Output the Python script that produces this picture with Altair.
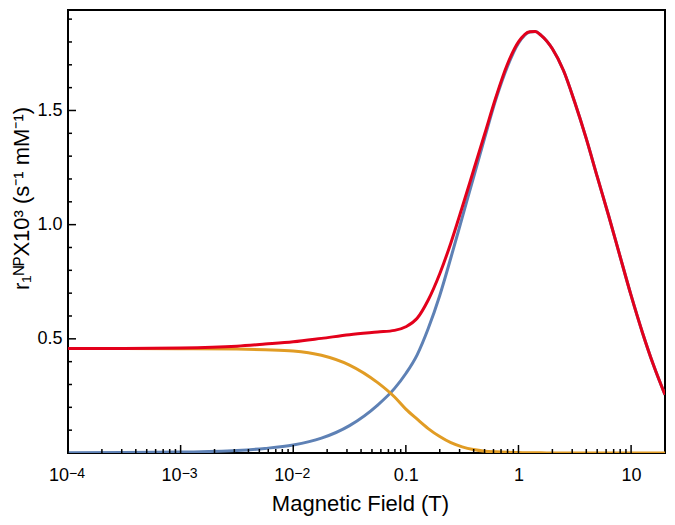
import altair as alt
import pandas as pd

# Magnetic field (T) sample points (log-spaced)
field_T = [0.0001, 0.000316, 0.001, 0.00316, 0.00562, 0.01, 0.0178, 0.0316, 0.0562, 0.0794,
           0.1, 0.126, 0.158, 0.2, 0.251, 0.316, 0.398, 0.501, 0.631, 0.794,
           1.0, 1.26, 1.41, 1.58, 2.0, 2.51, 3.16, 3.98, 5.01, 6.31,
           7.94, 10.0, 12.6, 15.8, 20.0]

blue_vals = [0.001, 0.002, 0.004, 0.011, 0.020, 0.035, 0.065, 0.120, 0.210, 0.283,
             0.348, 0.430, 0.545, 0.690, 0.855, 1.030, 1.205, 1.380, 1.550, 1.690,
             1.795, 1.844, 1.846, 1.830, 1.770, 1.675, 1.536, 1.380, 1.209, 1.040,
             0.865, 0.690, 0.528, 0.385, 0.255]

orange_vals = [0.458, 0.458, 0.457, 0.455, 0.452, 0.447, 0.428, 0.385, 0.308, 0.245,
               0.192, 0.148, 0.107, 0.072, 0.045, 0.027, 0.015, 0.008, 0.005, 0.003,
               0.002, 0.001, 0.001, 0.001, 0.000, 0.000, 0.000, 0.000, 0.000, 0.000,
               0.000, 0.000, 0.000, 0.000, 0.000]

red_vals = [0.458, 0.458, 0.460, 0.468, 0.477, 0.487, 0.502, 0.518, 0.530, 0.537,
            0.553, 0.590, 0.670, 0.785, 0.920, 1.075, 1.236, 1.397, 1.559, 1.700,
            1.800, 1.845, 1.846, 1.830, 1.770, 1.675, 1.536, 1.380, 1.209, 1.040,
            0.865, 0.690, 0.528, 0.385, 0.255]

x_major = [0.0001, 0.001, 0.01, 0.1, 1, 10]
x_plain_ticks = [0.1, 1, 10]
x_plain_labels = ["0.1", "1", "10"]
x_pow_ticks = [0.0001, 0.001, 0.01]
x_pow_base = "10"
x_pow_exps = ["−4", "−3", "−2"]
x_minor = [m * 10.0 ** e for e in range(-4, 2) for m in range(2, 10) if m * 10.0 ** e < 20]
y_major = [0.5, 1.0, 1.5]
y_minor = [0.1, 0.2, 0.3, 0.4, 0.6, 0.7, 0.8, 0.9, 1.1, 1.2, 1.3, 1.4, 1.6, 1.7, 1.8, 1.9]

BLUE = "#5E81B5"
ORANGE = "#E19C24"
RED = "#E3001B"
FONT = "Liberation Sans"
W, H = 597, 443

df = pd.DataFrame({"field": field_T, "blue": blue_vals, "orange": orange_vals, "red": red_vals})

x_scale = alt.Scale(type="log", domain=[0.0001, 20], nice=False)
y_scale = alt.Scale(domain=[0, 1.94], nice=False, zero=False)


def arr_expr(items):
    return "[" + ",".join("'" + s + "'" for s in items) + "]"


common = dict(grid=False, domain=False, ticks=False,
              labelFont=FONT, labelColor="black", titleFont=FONT, titleColor="black",
              titleFontWeight="normal", labelFlush=False, labelOverlap=False)

x_axis_plain = alt.Axis(orient="bottom", values=x_plain_ticks,
                        labelExpr=arr_expr(x_plain_labels) + "[round(log(datum.value)/LN10)+1]",
                        labelPadding=13, labelFontSize=18,
                        title="Magnetic Field (T)", titleFontSize=22,
                        titleX=292, titleY=57, titleAlign="center",
                        titleBaseline="alphabetic", **common)
x_axis_base = alt.Axis(orient="bottom", values=x_pow_ticks, labelExpr="'" + x_pow_base + "'",
                       labelPadding=13, labelFontSize=18, labelOffset=-9.5,
                       title="", **common)
x_axis_exp = alt.Axis(orient="bottom", values=x_pow_ticks,
                      labelExpr=arr_expr(x_pow_exps) + "[round(log(datum.value)/LN10)+4]",
                      labelPadding=13, labelFontSize=14, labelOffset=8.5,
                      title="", **common)
y_axis_major = alt.Axis(orient="left", values=y_major, format=".1f",
                        labelPadding=6, labelFontSize=18,
                        title="r₁ᴺᴾX10³ (s⁻¹ mM⁻¹)", titleFontSize=22,
                        titleAngle=270, titleX=-40, titleY=188, titleAlign="center",
                        titleBaseline="alphabetic", **common)

base = alt.Chart(df)

axis_layer_1 = base.mark_line(opacity=0).encode(
    x=alt.X("field:Q", scale=x_scale, axis=x_axis_plain),
    y=alt.Y("blue:Q", scale=y_scale, axis=y_axis_major),
)
axis_layer_2 = base.mark_line(opacity=0).encode(
    x=alt.X("field:Q", scale=x_scale, axis=x_axis_base),
    y=alt.Y("blue:Q", scale=y_scale, axis=None),
)
axis_layer_3 = base.mark_line(opacity=0).encode(
    x=alt.X("field:Q", scale=x_scale, axis=x_axis_exp),
    y=alt.Y("blue:Q", scale=y_scale, axis=None),
)


def curve(col, color):
    return base.mark_line(color=color, strokeWidth=3, interpolate="monotone", clip=True).encode(
        x=alt.X("field:Q", scale=x_scale, axis=None),
        y=alt.Y(col + ":Q", scale=y_scale, axis=None),
    )


def x_ticks(values, length):
    return alt.Chart(pd.DataFrame({"t": values})).mark_rule(color="black", strokeWidth=1.5).encode(
        x=alt.X("t:Q", scale=x_scale, axis=None),
        y=alt.value(H - length), y2=alt.value(H),
    )


def y_ticks(values, length):
    return alt.Chart(pd.DataFrame({"t": values})).mark_rule(color="black", strokeWidth=1.5).encode(
        y=alt.Y("t:Q", scale=y_scale, axis=None),
        x=alt.value(0), x2=alt.value(length),
    )


chart = alt.layer(
    axis_layer_1, axis_layer_2, axis_layer_3,
    curve("blue", BLUE), curve("orange", ORANGE), curve("red", RED),
    x_ticks(x_major, 8), x_ticks(x_minor, 4), y_ticks(y_major, 8), y_ticks(y_minor, 4),
).resolve_axis(
    x="independent", y="independent"
).properties(
    width=W, height=H,
    autosize=alt.AutoSizeParams(type="none"),
    padding={"left": 60, "top": 2, "right": 2, "bottom": 64},
    background="white",
).configure_view(stroke="black", strokeWidth=2)

chart.save("out.html", embed_options={"renderer": "svg", "actions": False})
